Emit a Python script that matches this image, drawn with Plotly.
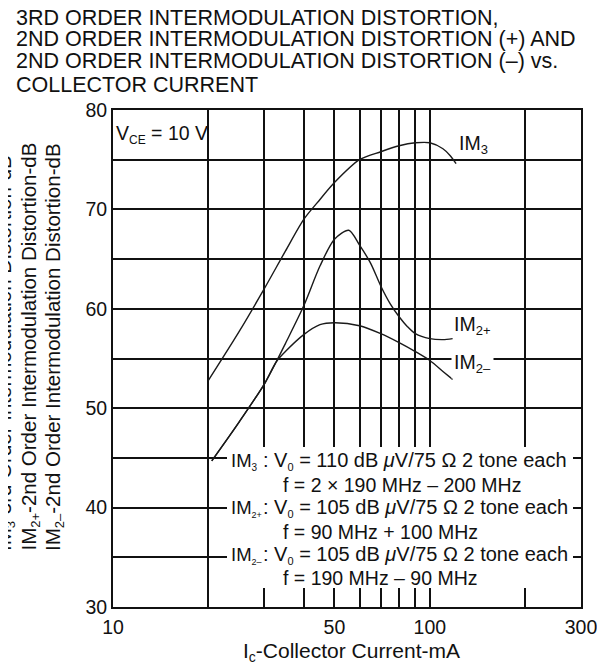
import plotly.graph_objects as go

# ---------------- data ----------------
im3_x = [20, 25, 30, 35, 40, 45, 50, 60, 70, 80, 90, 100, 110, 116, 121]
im3_y = [52.8, 57.7, 62.0, 65.8, 69.0, 71.0, 72.7, 75.0, 75.8, 76.4, 76.7, 76.7, 76.1, 75.4, 74.6]

im2p_x = [20.5, 25, 30, 32.8, 35, 40, 45, 50, 55.5, 60, 65, 70, 75, 80, 85, 90, 100, 110, 118]
im2p_y = [44.7, 48.6, 52.4, 54.7, 56.5, 60.3, 64.3, 67.0, 67.9, 66.4, 64.6, 62.3, 60.5, 59.2, 58.2, 57.5, 57.0, 56.9, 57.0]

im2m_x = [20.5, 25, 30, 32.8, 35, 40, 45, 50, 60, 70, 80, 90, 100, 110, 118]
im2m_y = [44.7, 48.6, 52.4, 54.7, 55.7, 57.4, 58.4, 58.6, 58.3, 57.5, 56.6, 55.7, 54.8, 53.7, 52.9]

x_major_vals = [10, 50, 100, 300]
x_major_text = ["10", "50", "100", "300"]
x_minor_vals = [20, 30, 40, 60, 70, 80, 90, 200]
y_major_vals = [30, 40, 50, 60, 70, 80]
y_minor_vals = [35, 45, 55, 65, 75]

title_lines = [
    "3RD ORDER INTERMODULATION DISTORTION,",
    "2ND ORDER INTERMODULATION DISTORTION (+) AND",
    "2ND ORDER INTERMODULATION DISTORTION (–) vs.",
    "COLLECTOR CURRENT",
]


def sub(s, size):
    return "<sub><span style='font-size:%dpx'>%s</span></sub>" % (size, s)


y_title_lines = [
    "IM" + sub("3", 13) + "-3rd Order Intermodulation Distortion-dB",
    "IM" + sub("2+", 13) + "-2nd Order Intermodulation Distortion-dB",
    "IM" + sub("2–", 13) + "-2nd Order Intermodulation Distortion-dB",
]
x_title = "I" + sub("c", 14) + "-Collector Current-mA"
vce_text = "V" + sub("CE", 12) + " = 10 V"
curve_labels = ["IM" + sub("3", 13), "IM" + sub("2+", 13), "IM" + sub("2–", 13)]
cond_labels = ["IM" + sub("3", 10), "IM" + sub("2+", 9), "IM" + sub("2–", 9)]
cond_lines = [
    ": V" + sub("0", 11) + " = 110 dB <i>μ</i>V/75 Ω 2 tone each",
    ": V" + sub("0", 11) + " = 105 dB <i>μ</i>V/75 Ω 2 tone each",
    ": V" + sub("0", 11) + " = 105 dB <i>μ</i>V/75 Ω 2 tone each",
]
freq_lines = [
    "f = 2 × 190 MHz – 200 MHz",
    "f = 90 MHz + 100 MHz",
    "f = 190 MHz – 90 MHz",
]

# ---------------- layout geometry (page has an 8px body margin) ----------------
W, H = 605, 668
OFF = 8
L, T = 105, 102
PW, PH = 468, 497
R = W - L - PW
B = H - T - PH


def PX(px):  # screen pixel -> paper fraction
    return (px - OFF - L) / PW


def PY(py):
    return (T + PH + OFF - py) / PH


FONT = "Liberation Sans, Arial, sans-serif"
INK = "#111111"

fig = go.Figure()
line_style = dict(color="#1a1a1a", width=1.4, shape="spline", smoothing=0.8)
for xs, ys in [(im3_x, im3_y), (im2p_x, im2p_y), (im2m_x, im2m_y)]:
    fig.add_trace(go.Scatter(x=xs, y=ys, mode="lines", line=line_style,
                             hoverinfo="skip", showlegend=False))


def note(text, x, y, size, xanchor="left", yanchor="middle", **kw):
    return dict(text=text, xref="paper", yref="paper", x=PX(x), y=PY(y),
                xanchor=xanchor, yanchor=yanchor, showarrow=False,
                font=dict(family=FONT, size=size, color=INK), **kw)


ann = []
for yc, txt in zip([17.5, 38.5, 60.5, 85], title_lines):
    ann.append(note(txt, 14, yc, 21.5))
for xc, txt in zip([5, 29.5, 54], y_title_lines):
    ann.append(note(txt, xc, 553, 20.5, xanchor="center", yanchor="bottom", textangle=-90))
ann.append(note(x_title, 351.5, 652, 21, xanchor="center"))
ann.append(note(vce_text, 114, 134, 19.5))
ann.append(note(curve_labels[0], 457, 144, 19.5))
ann.append(note(curve_labels[1], 452, 325, 19.5))
ann.append(note(curve_labels[2], 451, 363, 19.5, bgcolor="white", borderpad=2))

rows = [461, 485, 508, 532, 555, 578]
for i in range(3):
    ann.append(note(cond_labels[i], 229, rows[2 * i], 18.5))
    ann.append(note(cond_lines[i], 261, rows[2 * i], 20))
    ann.append(note(freq_lines[i], 281, rows[2 * i + 1], 19.5))

shapes = [
    dict(type="rect", xref="paper", yref="paper", x0=PX(227), x1=PX(573),
         y0=PY(588), y1=PY(447), fillcolor="white", line=dict(width=0), layer="above"),
]

axis_common = dict(showline=True, linecolor=INK, linewidth=2, mirror=True,
                   showgrid=True, gridcolor=INK, gridwidth=1.5, zeroline=False,
                   ticks="", ticklen=0, tickfont=dict(family=FONT, size=19.5, color=INK))

fig.update_layout(
    width=W, height=H, margin=dict(l=L, r=R, t=T, b=B, autoexpand=False),
    paper_bgcolor="white", plot_bgcolor="white",
    xaxis=dict(type="log", range=[1, 2.4771], tickmode="array",
               tickvals=x_major_vals, ticktext=x_major_text, ticklabelstandoff=2,
               minor=dict(tickvals=x_minor_vals, showgrid=True, gridcolor=INK,
                          gridwidth=1.5, ticks=""),
               **axis_common),
    yaxis=dict(range=[30, 80], tickmode="array", tickvals=y_major_vals,
               ticklabelstandoff=0,
               minor=dict(tickvals=y_minor_vals, showgrid=True, gridcolor=INK,
                          gridwidth=1.5, ticks=""),
               **axis_common),
    annotations=ann, shapes=shapes, showlegend=False,
)

fig.write_html("out.html")
